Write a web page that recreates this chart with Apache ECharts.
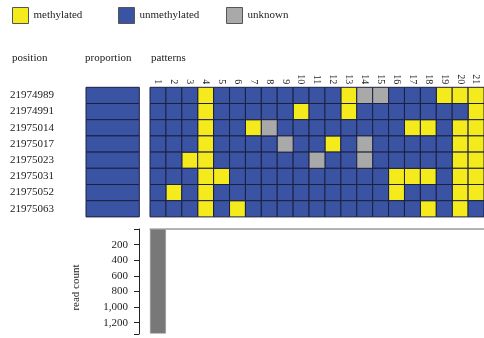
<!DOCTYPE html>
<html>
<head>
<meta charset="utf-8">
<style>
  html, body { margin: 0; padding: 0; background: #fff; }
  #chart { width: 484px; height: 338px; }
</style>
<script src="https://cdn.jsdelivr.net/npm/echarts@6/dist/echarts.min.js"></script>
</head>
<body>
<div id="chart"></div>
<script>
// CpG positions (rows) and read patterns (columns)
const positions = ['21974989', '21974991', '21975014', '21975017', '21975023', '21975031', '21975052', '21975063'];
const patternIds = ['1', '2', '3', '4', '5', '6', '7', '8', '9', '10', '11', '12', '13', '14', '15', '16', '17', '18', '19', '20', '21'];

// Methylation state per position and pattern: M = methylated, U = unmethylated, X = unknown
const patternStates = [
  ['U','U','U','M','U','U','U','U','U','U','U','U','M','X','X','U','U','U','M','M','M'],
  ['U','U','U','M','U','U','U','U','U','M','U','U','M','U','U','U','U','U','U','U','M'],
  ['U','U','U','M','U','U','M','X','U','U','U','U','U','U','U','U','M','M','U','M','M'],
  ['U','U','U','M','U','U','U','U','X','U','U','M','U','X','U','U','U','U','U','M','M'],
  ['U','U','M','M','U','U','U','U','U','U','X','U','U','X','U','U','U','U','U','M','M'],
  ['U','U','U','M','M','U','U','U','U','U','U','U','U','U','U','M','M','M','U','M','M'],
  ['U','M','U','M','U','U','U','U','U','U','U','U','U','U','U','M','U','U','U','M','M'],
  ['U','U','U','M','U','M','U','U','U','U','U','U','U','U','U','U','U','M','U','M','U']
];

// Proportion of unmethylated reads at each position
const unmethylatedProportion = [1, 1, 1, 1, 1, 1, 1, 1];

// Number of reads carrying each pattern
const readCounts = [1340, 3, 3, 3, 3, 3, 3, 3, 3, 3, 3, 3, 3, 3, 3, 3, 3, 3, 3, 3, 3];

// Read-count axis tick values
const readCountTicks = [200, 400, 600, 800, 1000, 1200];

const stateInfo = [
  { code: 'M', name: 'methylated', color: '#f4ea1c' },
  { code: 'U', name: 'unmethylated', color: '#3a53a3' },
  { code: 'X', name: 'unknown', color: '#a9a9a9' }
];

const FONT = 'Liberation Serif';
const TEXT = '#222';
const CELL_STROKE = '#1b2040';
const BLUE = '#3a53a3';

const chart = echarts.init(document.getElementById('chart'), null, { renderer: 'canvas' });

// One rectangle per (pattern, position) cell
function cellItem(params, api) {
  const c = api.coord([api.value(0), api.value(1)]);
  const s = api.size([1, 1]);
  return {
    type: 'rect',
    shape: { x: c[0] - s[0] / 2, y: c[1] - s[1] / 2, width: s[0], height: s[1] },
    style: { fill: api.visual('color'), stroke: CELL_STROKE, lineWidth: 1 }
  };
}

// Horizontal proportion bar filling the full row height
function proportionItem(params, api) {
  const start = api.coord([0, api.value(1)]);
  const end = api.coord([api.value(0), api.value(1)]);
  const h = api.size([0, 1])[1];
  return {
    type: 'rect',
    shape: { x: start[0], y: start[1] - h / 2, width: end[0] - start[0], height: h },
    style: { fill: api.visual('color'), stroke: CELL_STROKE, lineWidth: 1 }
  };
}

const cellSeries = stateInfo.map(st => {
  const data = [];
  patternStates.forEach((row, r) => {
    row.forEach((v, c) => { if (v === st.code) data.push([c, r]); });
  });
  return {
    name: st.name,
    type: 'custom',
    xAxisIndex: 0,
    yAxisIndex: 0,
    renderItem: cellItem,
    itemStyle: { color: st.color },
    encode: { x: 0, y: 1 },
    data: data,
    silent: true
  };
});

const legendLefts = [12, 118, 226];

const option = {
  animation: false,
  textStyle: { fontFamily: FONT, color: TEXT },
  legend: stateInfo.map((st, i) => ({
    left: legendLefts[i],
    top: 7,
    padding: 0,
    data: [st.name],
    icon: 'rect',
    itemWidth: 16,
    itemHeight: 16,
    itemGap: 0,
    selectedMode: false,
    itemStyle: { borderColor: '#555', borderWidth: 1 },
    textStyle: { fontFamily: FONT, fontSize: 11, color: TEXT }
  })),
  graphic: [
    { type: 'text', left: 12, top: 53, style: { text: 'position', font: '11px "Liberation Serif"', fill: TEXT } },
    { type: 'text', left: 85, top: 53, style: { text: 'proportion', font: '11px "Liberation Serif"', fill: TEXT } },
    { type: 'text', left: 151, top: 53, style: { text: 'patterns', font: '11px "Liberation Serif"', fill: TEXT } }
  ],
  grid: [
    { left: 150, top: 87.3, width: 340.2, height: 129.6 },
    { left: 86, top: 87.3, width: 53.3, height: 129.6 },
    { left: 150, top: 229, width: 340.2, height: 105 }
  ],
  xAxis: [
    {
      gridIndex: 0, type: 'category', data: patternIds, position: 'top',
      axisLine: { show: false }, axisTick: { show: false },
      axisLabel: { rotate: 90, margin: 3, fontSize: 10, fontFamily: FONT, color: TEXT, interval: 0 }
    },
    {
      gridIndex: 1, type: 'value', min: 0, max: 1, show: false
    },
    {
      gridIndex: 2, type: 'category', data: patternIds, position: 'top',
      axisLine: { show: true, lineStyle: { color: '#b3b3b3', width: 1.5 } },
      axisTick: { show: false }, axisLabel: { show: false }
    }
  ],
  yAxis: [
    {
      gridIndex: 0, type: 'category', data: positions, inverse: true, show: false
    },
    {
      gridIndex: 1, type: 'category', data: positions, inverse: true,
      axisLine: { show: false }, axisTick: { show: false },
      axisLabel: { margin: 32, fontSize: 11, fontFamily: FONT, color: TEXT }
    },
    {
      gridIndex: 2, type: 'value', inverse: true, min: 0, max: 1345, interval: 200,
      offset: 11,
      name: 'read count', nameLocation: 'middle', nameRotate: 90, nameGap: 57,
      nameTextStyle: { fontFamily: FONT, fontSize: 11, color: TEXT, padding: [0, 12, 0, 0] },
      axisLine: { show: true, lineStyle: { color: '#222', width: 1 } },
      axisTick: { show: true, length: 5, lineStyle: { color: '#222' } },
      splitLine: { show: false },
      axisLabel: {
        margin: 11, fontSize: 11, fontFamily: FONT, color: TEXT,
        formatter: v => readCountTicks.includes(v) ? v.toLocaleString('en-US') : ''
      }
    }
  ],
  series: [
    ...cellSeries,
    {
      type: 'custom', xAxisIndex: 1, yAxisIndex: 1,
      renderItem: proportionItem,
      itemStyle: { color: BLUE },
      encode: { x: 0, y: 1 },
      data: unmethylatedProportion.map((v, r) => [v, r]),
      silent: true
    },
    {
      type: 'bar', xAxisIndex: 2, yAxisIndex: 2,
      data: readCounts,
      barCategoryGap: 0,
      itemStyle: { color: '#787878', borderColor: '#9a9a9a', borderWidth: 0.5 },
      silent: true
    }
  ]
};

chart.setOption(option);
</script>
</body>
</html>
